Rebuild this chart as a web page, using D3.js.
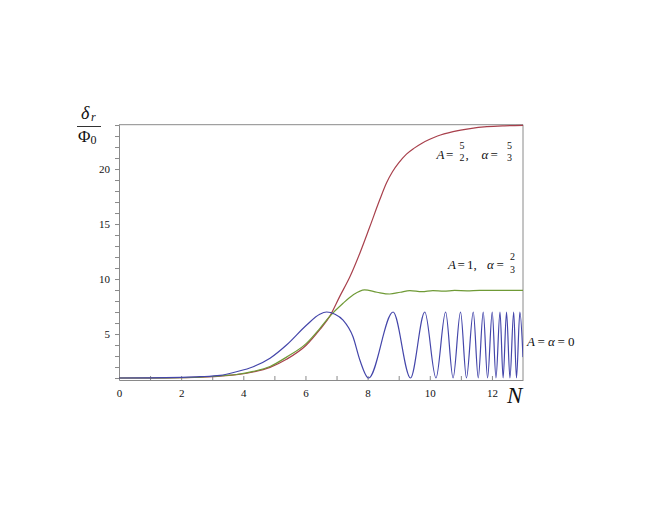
<!DOCTYPE html>
<html><head><meta charset="utf-8">
<script src="https://cdn.jsdelivr.net/npm/d3@7"></script>
<style>body{margin:0;background:#fff} text{font-family:"Liberation Serif","DejaVu Serif",serif !important;}</style>
</head><body>
<svg id="chart" width="660" height="510"></svg>
<script>
// ---- data ----
const redN   = [0, 1, 2, 3, 3.25, 3.78, 4.32, 4.86, 5.39, 6.03, 6.46, 6.78, 7.1, 7.43, 7.75, 8.07, 8.39, 8.61, 8.8, 9.0, 9.25, 9.5, 9.75, 10.0, 10.25, 10.75, 11.3, 11.84, 12.4, 13];
const redV   = [1.0, 1.0, 1.03, 1.12, 1.18, 1.3, 1.55, 1.97, 2.7, 4.0, 5.4, 6.6, 8.4, 10.2, 12.35, 14.75, 17.2, 18.75, 19.75, 20.55, 21.35, 21.9, 22.35, 22.7, 23.0, 23.4, 23.68, 23.85, 23.93, 23.97];
const greenN = [0, 1, 2, 3, 3.25, 3.78, 4.32, 4.86, 5.39, 6.03, 6.46, 6.78, 7.21, 7.53, 7.9, 8.3, 8.71, 9.05, 9.36, 9.75, 10.1, 10.45, 10.8, 11.2, 11.6, 12.2, 13];
const greenV = [1.0, 1.0, 1.03, 1.14, 1.2, 1.32, 1.6, 2.05, 2.9, 4.15, 5.5, 6.6, 7.8, 8.55, 9.02, 8.8, 8.64, 8.8, 8.95, 8.85, 8.95, 8.9, 8.96, 8.93, 8.97, 8.96, 8.97];
const blueN  = [0, 1, 2, 2.6, 3.25, 3.78, 4.32, 4.86, 5.39, 6.03, 6.46, 6.68, 6.95, 7.21, 7.53, 7.75, 8.03,
                8.82, 9.38, 9.84, 10.2, 10.51, 10.75, 10.99, 11.18, 11.4, 11.56, 11.72, 11.86, 12.01, 12.13, 12.26, 12.36, 12.47, 12.58, 12.7, 12.79, 12.9, 13];
const blueV  = [1.0, 1.01, 1.06, 1.12, 1.24, 1.57, 2.03, 2.8, 4.0, 5.8, 6.8, 7.0, 6.8, 6.27, 4.75, 2.64, 1.0,
                7.0, 1.0, 7.0, 1.0, 7.0, 1.0, 7.0, 1.0, 7.0, 1.0, 7.0, 1.0, 7.0, 1.0, 7.0, 1.0, 7.0, 1.0, 7.0, 1.0, 7.0, 2.9];
const xTicks = [0,1,2,3,4,5,6,7,8,9,10,11,12];
const xLabels = [0,2,4,6,8,10,12];
const yTicks = d3.range(1, 25);
const yLabels = [5,10,15,20];

const svg = d3.select("#chart");
const x = d3.scaleLinear().domain([0, 13]).range([119, 523]);
const y = d3.scaleLinear().domain([0.82, 24.03]).range([380, 124.7]);
const serif = '"Liberation Serif","DejaVu Serif",serif';
const axisCol = "#8a8a8a";

svg.append("defs").append("clipPath").attr("id","clip")
  .append("rect").attr("x",119).attr("y",124).attr("width",404).attr("height",257);

// frame top + right
svg.append("line").attr("x1",x(0)).attr("x2",x(13)).attr("y1",y(24.03)).attr("y2",y(24.03)).attr("stroke",axisCol);
svg.append("line").attr("x1",x(13)).attr("x2",x(13)).attr("y1",y(24.03)).attr("y2",y(0.82)).attr("stroke",axisCol);

// x axis
const gx = svg.append("g").attr("transform",`translate(0,${y(0.82)})`)
  .call(d3.axisBottom(x).tickValues(xTicks).tickSize(-4).tickSizeOuter(0).tickPadding(9)
        .tickFormat(d => xLabels.includes(d) ? d : ""));
gx.attr("font-family", null);
gx.selectAll("path,line").attr("stroke",axisCol);
gx.selectAll("text").style("font-family",serif).attr("font-size",11).attr("fill","#111");

// y axis
const gy = svg.append("g").attr("transform",`translate(${x(0)},0)`)
  .call(d3.axisLeft(y).tickValues(yTicks).tickSize(4).tickSizeOuter(0).tickPadding(5)
        .tickFormat(d => yLabels.includes(d) ? d : ""));
gy.attr("font-family", null);
gy.selectAll("path,line").attr("stroke",axisCol);
gy.selectAll("text").style("font-family",serif).attr("font-size",11).attr("fill","#111");

// curves
const line = d3.line().x(d => x(d[0])).y(d => y(d[1])).curve(d3.curveMonotoneX);
const series = [
  {n: redN, v: redV, c: "#a8404c"},
  {n: greenN, v: greenV, c: "#6f9a36"},
  {n: blueN, v: blueV, c: "#4446aa"}
];
const gc = svg.append("g").attr("clip-path","url(#clip)");
series.forEach(s => {
  gc.append("path").datum(d3.zip(s.n, s.v)).attr("d", line)
    .attr("fill","none").attr("stroke", s.c).attr("stroke-width",1.2);
});

// token drawer for math labels
function tok(t, px, py, size, italic) {
  svg.append("text").attr("x",px).attr("y",py).text(t)
    .style("font-family",serif).attr("font-size",size)
    .attr("font-style", italic ? "italic" : "normal").attr("fill","#111");
}
// red label: A = 5/2,  α = 5/3
tok("A",436.5,158.5,13,true); tok("=",446,158.5,13,false);
tok("5",459.5,148.5,10,false); tok("2",459.5,161,10,false); tok(",",465.5,158.5,13,false);
tok("α",481.5,158.5,13,true); tok("=",490.5,158.5,13,false);
tok("5",507,148.5,10,false); tok("3",507,161,10,false);
// green label: A = 1,  α = 2/3
tok("A",448,269,13,true); tok("=",457.5,269,13,false); tok("1,",467,269,13,false);
tok("α",487,269,13,true); tok("=",496.5,269,13,false);
tok("2",510,259.5,10,false); tok("3",510,272.5,10,false);
// blue label: A = α = 0
tok("A",527,346,13,true); tok("=",537.5,346,13,false);
tok("α",548,346,13,true); tok("=",557.5,346,13,false); tok("0",568,346,13,false);

// y label δr / Φ0
tok("δ",81,118.5,18,true); tok("r",91,121,12,true);
svg.append("line").attr("x1",77).attr("x2",101).attr("y1",126.5).attr("y2",126.5).attr("stroke","#333").attr("stroke-width",1);
tok("Φ",78,141.5,17,false); tok("0",90.5,144,12,false);
// x label N
tok("N",507,403,23,true);
</script>
</body></html>
